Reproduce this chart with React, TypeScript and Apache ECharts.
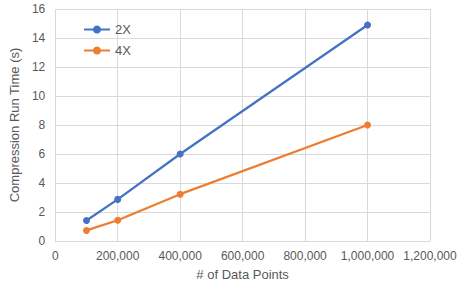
import React, { useEffect, useRef } from "react";
import * as echarts from "echarts";

const xValues = [100000, 200000, 400000, 1000000];
const series2X = [1.41, 2.87, 6.0, 14.9];
const series4X = [0.73, 1.43, 3.23, 8.0];
const seriesNames = ["2X", "4X"];

export default function App() {
  const ref = useRef<HTMLDivElement>(null);
  useEffect(() => {
    const chart = echarts.init(ref.current!, null, { renderer: "svg" });
    const font = "Liberation Sans, Arial, sans-serif";
    const mk = (name: string, data: number[], color: string) => ({
      name,
      type: "line",
      data: xValues.map((x, i) => [x, data[i]]),
      symbol: "circle",
      symbolSize: 7,
      lineStyle: { color, width: 2.25 },
      itemStyle: { color },
    });
    chart.setOption({
      animation: false,
      backgroundColor: "#ffffff",
      textStyle: { fontFamily: font },
      legend: {
        orient: "vertical",
        left: 78,
        top: 18,
        itemGap: 8,
        itemWidth: 26,
        itemHeight: 10,
        textStyle: { color: "#595959", fontSize: 13, fontFamily: font },
        data: seriesNames,
      },
      grid: { left: 51, right: 33, top: 9, bottom: 49 },
      xAxis: {
        type: "value",
        min: 0,
        max: 1200000,
        interval: 200000,
        name: "# of Data Points",
        nameLocation: "middle",
        nameGap: 27,
        nameTextStyle: { color: "#595959", fontSize: 13, fontFamily: font },
        axisLine: { show: true, lineStyle: { color: "#d9d9d9" } },
        axisTick: { show: false },
        axisLabel: {
          color: "#595959",
          fontSize: 12,
          fontFamily: font,
          margin: 9,
          formatter: (v: number) => v.toLocaleString("en-US"),
        },
        splitLine: { show: true, lineStyle: { color: "#d9d9d9" } },
      },
      yAxis: {
        type: "value",
        min: 0,
        max: 16,
        interval: 2,
        name: "Compression Run Time (s)",
        nameLocation: "middle",
        nameGap: 30,
        nameTextStyle: { color: "#595959", fontSize: 13, fontFamily: font },
        axisLine: { show: false },
        axisTick: { show: false },
        axisLabel: { color: "#595959", fontSize: 12, fontFamily: font, margin: 10 },
        splitLine: { show: true, lineStyle: { color: "#d9d9d9" } },
      },
      series: [mk("2X", series2X, "#4472C4"), mk("4X", series4X, "#ED7D31")],
    });
    return () => chart.dispose();
  }, []);
  return <div ref={ref} style={{ width: 463, height: 290, position: "absolute", left: 0, top: 0 }} />;
}
